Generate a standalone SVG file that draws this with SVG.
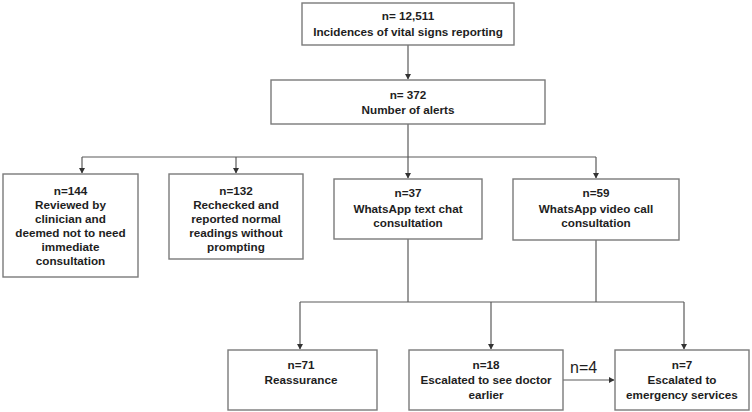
<svg xmlns="http://www.w3.org/2000/svg" width="752" height="412" viewBox="0 0 752 412">
<style>
.box{fill:#fff;stroke:#7a7a7a;stroke-width:1.4}
.t{font-family:"Liberation Sans",Arial,sans-serif;font-weight:bold;font-size:11.7px;fill:#1e1e1e;text-anchor:middle}
.c{fill:none;stroke:#5a5a5a;stroke-width:1.2}
.lbl{font-family:"Liberation Sans",Arial,sans-serif;font-size:16px;fill:#1e1e1e}
</style>
<defs>
<marker id="ah" markerUnits="userSpaceOnUse" markerWidth="6" markerHeight="6" refX="5" refY="3" orient="auto">
<path d="M0,0 L5.5,3 L0,6 Z" fill="#333"/>
</marker>
</defs>
<rect width="752" height="412" fill="#fff"/>
<g id="connectors">
<path class="c" d="M408,45 V79" marker-end="url(#ah)"/>
<path class="c" d="M408,124 V157"/>
<path class="c" d="M82,157 H596"/>
<path class="c" d="M82,157 V173" marker-end="url(#ah)"/>
<path class="c" d="M236,157 V173" marker-end="url(#ah)"/>
<path class="c" d="M408,157 V178" marker-end="url(#ah)"/>
<path class="c" d="M596,157 V178" marker-end="url(#ah)"/>
<path class="c" d="M408,239 V302"/>
<path class="c" d="M596,240 V302"/>
<path class="c" d="M300,302 H684"/>
<path class="c" d="M300,302 V349" marker-end="url(#ah)"/>
<path class="c" d="M491,302 V349" marker-end="url(#ah)"/>
<path class="c" d="M684,302 V349" marker-end="url(#ah)"/>
<path class="c" d="M563,380 H614" marker-end="url(#ah)"/>
<text class="lbl" x="570" y="373">n=4</text>
</g>
<g id="n_total">
<rect class="box" x="302" y="3" width="212" height="42"/>
<text class="t" x="408" y="20">n= 12,511</text>
<text class="t" x="408" y="36">Incidences of vital signs reporting</text>
</g>
<g id="n_alerts">
<rect class="box" x="271" y="80" width="274" height="44"/>
<text class="t" x="408" y="99">n= 372</text>
<text class="t" x="408" y="114">Number of alerts</text>
</g>
<g id="n_144">
<rect class="box" x="3" y="174" width="135" height="103"/>
<text class="t" x="70.5" y="195">n=144</text>
<text class="t" x="70.5" y="209">Reviewed by</text>
<text class="t" x="70.5" y="223">clinician and</text>
<text class="t" x="70.5" y="237">deemed not to need</text>
<text class="t" x="70.5" y="251">immediate</text>
<text class="t" x="70.5" y="265">consultation</text>
</g>
<g id="n_132">
<rect class="box" x="169" y="174" width="134" height="85"/>
<text class="t" x="236" y="195">n=132</text>
<text class="t" x="236" y="209">Rechecked and</text>
<text class="t" x="236" y="223">reported normal</text>
<text class="t" x="236" y="237">readings without</text>
<text class="t" x="236" y="251">prompting</text>
</g>
<g id="n_37">
<rect class="box" x="334" y="179" width="148" height="60"/>
<text class="t" x="408" y="197">n=37</text>
<text class="t" x="408" y="213">WhatsApp text chat</text>
<text class="t" x="408" y="227">consultation</text>
</g>
<g id="n_59">
<rect class="box" x="513" y="179" width="166" height="61"/>
<text class="t" x="596" y="197">n=59</text>
<text class="t" x="596" y="213">WhatsApp video call</text>
<text class="t" x="596" y="227">consultation</text>
</g>
<g id="n_71">
<rect class="box" x="228" y="350" width="149" height="60"/>
<text class="t" x="301" y="369">n=71</text>
<text class="t" x="301" y="384">Reassurance</text>
</g>
<g id="n_18">
<rect class="box" x="409" y="350" width="154" height="60"/>
<text class="t" x="486" y="369">n=18</text>
<text class="t" x="486" y="384">Escalated to see doctor</text>
<text class="t" x="486" y="399">earlier</text>
</g>
<g id="n_7">
<rect class="box" x="615" y="350" width="134" height="60"/>
<text class="t" x="682" y="369">n=7</text>
<text class="t" x="682" y="384">Escalated to</text>
<text class="t" x="682" y="399">emergency services</text>
</g>
</svg>
